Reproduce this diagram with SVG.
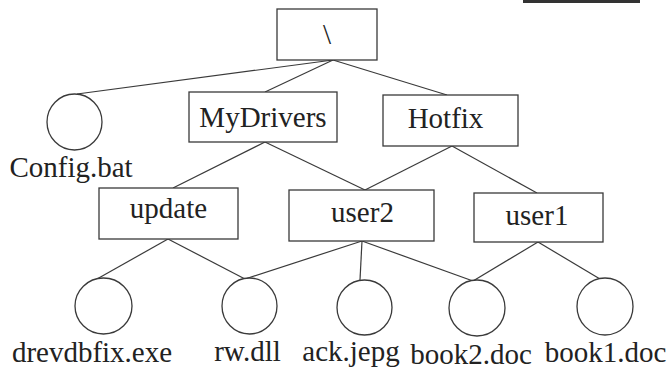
<svg xmlns="http://www.w3.org/2000/svg" width="671" height="370" viewBox="0 0 671 370">
<style>
.box{fill:#fff;stroke:#3a3a3a;stroke-width:1.3}
.file{fill:#fff;stroke:#3a3a3a;stroke-width:1.3}
.edge{stroke:#3a3a3a;stroke-width:1.2;fill:none}
.lbl{font-family:"Liberation Serif",Tinos,"Times New Roman",Times,"DejaVu Serif","Noto Serif",serif;font-size:29px;fill:#222;text-anchor:middle}
</style>
<rect x="0" y="0" width="671" height="370" fill="#fff"/>
<rect x="523" y="0" width="117" height="3" fill="#333"/>
<g id="connectors">
<line class="edge" x1="333" y1="60" x2="77" y2="94"/>
<line class="edge" x1="333" y1="60" x2="265" y2="92"/>
<line class="edge" x1="333" y1="60" x2="447" y2="95"/>
<line class="edge" x1="265" y1="142" x2="173" y2="188"/>
<line class="edge" x1="265" y1="142" x2="365" y2="190"/>
<line class="edge" x1="452" y1="146" x2="365" y2="190"/>
<line class="edge" x1="452" y1="146" x2="537" y2="193"/>
<line class="edge" x1="168" y1="239" x2="97" y2="279"/>
<line class="edge" x1="168" y1="239" x2="245" y2="279"/>
<line class="edge" x1="362" y1="241" x2="245" y2="279"/>
<line class="edge" x1="362" y1="241" x2="360" y2="280"/>
<line class="edge" x1="362" y1="241" x2="473" y2="281"/>
<line class="edge" x1="538" y1="242" x2="473" y2="281"/>
<line class="edge" x1="538" y1="242" x2="600" y2="279"/>
</g>
<g id="root"><rect class="box" x="277" y="9" width="100" height="51"/><text class="lbl" x="327" y="44">\</text></g>
<g id="config"><ellipse class="file" cx="74.5" cy="122" rx="27.5" ry="28"/><text class="lbl" x="71" y="177">Config.bat</text></g>
<g id="mydrivers"><rect class="box" x="189" y="92" width="148" height="50"/><text class="lbl" x="263" y="127">MyDrivers</text></g>
<g id="hotfix"><rect class="box" x="383" y="95" width="135" height="51"/><text class="lbl" x="445.5" y="128">Hotfix</text></g>
<g id="update"><rect class="box" x="99" y="188" width="139" height="51"/><text class="lbl" x="168.5" y="218">update</text></g>
<g id="user2"><rect class="box" x="289" y="190" width="145" height="51"/><text class="lbl" x="362.5" y="222">user2</text></g>
<g id="user1"><rect class="box" x="474" y="193" width="129" height="49"/><text class="lbl" x="537" y="225">user1</text></g>
<g id="drevdbfix"><ellipse class="file" cx="103.5" cy="306" rx="28.5" ry="28"/><text class="lbl" x="92" y="362">drevdbfix.exe</text></g>
<g id="rwdll"><ellipse class="file" cx="249.5" cy="306" rx="27.5" ry="28"/><text class="lbl" x="247.5" y="361">rw.dll</text></g>
<g id="ackjepg"><ellipse class="file" cx="364.5" cy="307.5" rx="27.5" ry="27.5"/><text class="lbl" x="351" y="361">ack.jepg</text></g>
<g id="book2"><ellipse class="file" cx="477" cy="308" rx="28" ry="28"/><text class="lbl" x="471" y="364">book2.doc</text></g>
<g id="book1"><ellipse class="file" cx="605" cy="306.5" rx="28" ry="28.5"/><text class="lbl" x="605.5" y="362">book1.doc</text></g>
</svg>
